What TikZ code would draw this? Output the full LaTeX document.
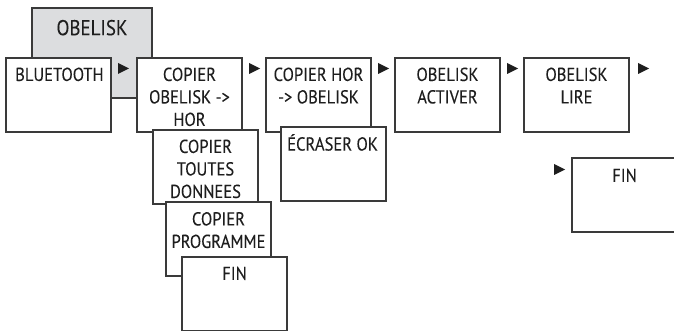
\documentclass[tikz,border=0pt]{standalone}
\usepackage{fontspec}
\setmainfont{PT Sans}[FakeStretch=0.88, FakeBold=0.05]
\definecolor{linec}{HTML}{3A3A3A}
\definecolor{textc}{HTML}{1E1E1E}
\definecolor{grayfill}{HTML}{DCDDDF}
\begin{document}
\begin{tikzpicture}[x=1pt,y=-1pt,
  box/.style={draw=linec, line width=1.1pt, fill=white, minimum width=105pt, minimum height=74pt, anchor=north west, inner sep=0pt, outer sep=0pt},
  lab/.style={anchor=north, align=center, font=\fontsize{18.8}{22.5}\selectfont, inner sep=0pt, text=textc},
  labl/.style={lab, anchor=north west, align=left},
  biglab/.style={lab, font=\fontsize{21.5}{26}\selectfont},
  markstyle/.style={fill=textc}]
\useasboundingbox (0,0) rectangle (674,331);
\clip (0,0) rectangle (674,331);
% gray OBELISK box
\node[box, fill=grayfill, minimum width=120pt, minimum height=90pt] (obk) at (32,8) {};
\node[biglab] (tobk) at ([yshift=-8.8pt]obk.north) {\strut OBELISK};
% top row
\node[box] (bt) at (6,58) {};
\node[labl] (tbt) at ([xshift=9pt,yshift=-7pt]bt.north west) {\strut BLUETOOTH};
\node[box] (coh) at (137,58) {};
\node[lab] (tcoh) at ([yshift=-7pt]coh.north) {\strut COPIER\\OBELISK ->\\HOR};
\node[box] (cho) at (266,58) {};
\node[lab] (tcho) at ([yshift=-7pt]cho.north) {\strut COPIER HOR\\-> OBELISK};
\node[box] (oa) at (395,58) {};
\node[lab] (toa) at ([yshift=-7pt]oa.north) {\strut OBELISK\\ACTIVER};
\node[box] (ol) at (524,58) {};
\node[lab] (tol) at ([yshift=-7pt]ol.north) {\strut OBELISK\\LIRE};
% sub boxes
\node[box] (eok) at (281,127) {};
\node[labl] (teok) at ([xshift=6pt,yshift=-7pt]eok.north west) {\strut ÉCRASER OK};
\node[box] (ctd) at (153,130) {};
\node[lab] (tctd) at ([yshift=-7pt]ctd.north) {\strut COPIER\\TOUTES\\DONNEES};
\node[box] (cpr) at (166,202) {};
\node[lab] (tcpr) at ([yshift=-7.5pt]cpr.north) {\strut COPIER\\PROGRAMME};
\node[box] (fin1) at (182,257) {};
\node[lab] (tfin1) at ([yshift=-7pt]fin1.north) {\strut FIN};
\node[box] (fin2) at (572,158) {};
\node[lab] (tfin2) at ([yshift=-8pt]fin2.north) {\strut FIN};
% arrow marks
\foreach \x/\y in {118/63, 249/63, 378/63, 507/63, 638/63, 554/164}{
  \fill[markstyle] (\x,\y) -- (\x+11,\y+5.5) -- (\x,\y+11) -- cycle;
}
\end{tikzpicture}
\end{document}
